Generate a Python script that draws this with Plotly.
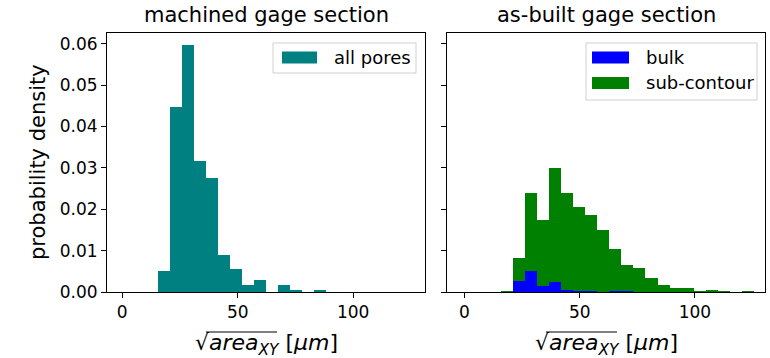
import plotly.graph_objects as go

# ---- data ----
machined_edges = [15.4, 20.6, 25.8, 31.0, 36.2, 41.4, 46.6, 51.8, 57.0, 62.2,
                  67.4, 72.6, 77.8, 83.0, 88.2]
machined_all = [0.0050, 0.0447, 0.0596, 0.0317, 0.0276, 0.0090, 0.0055, 0.0018,
                0.0029, 0.0, 0.0018, 0.0004, 0.0, 0.0004]

asbuilt_edges = [15.9, 21.1, 26.3, 31.6, 36.8, 42.0, 47.2, 52.4, 57.7, 62.9,
                 68.1, 73.3, 78.5, 83.8, 89.0, 94.2, 99.4, 104.6, 109.9, 115.1,
                 120.3, 125.5]
asbuilt_subcontour = [0.0002, 0.0081, 0.0240, 0.0175, 0.0299, 0.0240, 0.0206,
                      0.0187, 0.0151, 0.0103, 0.0066, 0.0057, 0.0034, 0.0018,
                      0.0010, 0.0010, 0.0002, 0.0004, 0.0002, 0.0, 0.0002]
asbuilt_bulk = [0.0, 0.0026, 0.0050, 0.0015, 0.0024, 0.0006, 0.0002, 0.0002,
                0.0, 0.0002, 0.0002, 0.0, 0.0, 0.0, 0.0, 0.0, 0.0, 0.0, 0.0,
                0.0, 0.0]

x_ticks = [0, 50, 100]
y_ticks = [0.00, 0.01, 0.02, 0.03, 0.04, 0.05, 0.06]
titles = ["machined gage section", "as-built gage section"]
series_names = ["all pores", "bulk", "sub-contour"]
series_colors = ["#008080", "#0000ff", "#008000"]


def centers_widths(edges):
    c = [(a + b) / 2 for a, b in zip(edges[:-1], edges[1:])]
    w = [b - a for a, b in zip(edges[:-1], edges[1:])]
    return c, w


FONT = "DejaVu Sans"
fig = go.Figure()

c, w = centers_widths(machined_edges)
fig.add_trace(go.Bar(x=c, y=machined_all, width=w, name=series_names[0],
                     marker=dict(color=series_colors[0], line=dict(width=0)),
                     xaxis="x", yaxis="y", showlegend=False))

c2, w2 = centers_widths(asbuilt_edges)
fig.add_trace(go.Bar(x=c2, y=asbuilt_subcontour, width=w2, name=series_names[2],
                     marker=dict(color=series_colors[2], line=dict(width=0)),
                     xaxis="x2", yaxis="y2", showlegend=False))
fig.add_trace(go.Bar(x=c2, y=asbuilt_bulk, width=w2, name=series_names[1],
                     marker=dict(color=series_colors[1], line=dict(width=0)),
                     xaxis="x2", yaxis="y2", showlegend=False))

axis_common = dict(showline=True, mirror=True, linecolor="black", linewidth=1,
                   ticks="outside", ticklen=5, tickwidth=1, tickcolor="black",
                   showgrid=False, zeroline=False,
                   tickfont=dict(family=FONT, size=17, color="black"))

W, H = 770, 358
ml, mr, mt, mb = 107, 5, 33, 66
pw = W - ml - mr
ph = H - mt - mb

def px_x(p):
    return (p - ml) / pw

def px_y(p):
    return (H - mb - p) / ph

fig.update_layout(
    width=W, height=H,
    margin=dict(l=ml, r=mr, t=mt, b=mb),
    paper_bgcolor="white", plot_bgcolor="white",
    barmode="overlay", bargap=0, showlegend=False,
    font=dict(family=FONT, color="black"),
    xaxis=dict(domain=[0, px_x(425)], range=[-6.6, 131.1], tickvals=x_ticks,
               anchor="y", **axis_common),
    yaxis=dict(range=[0, 0.0626], tickvals=y_ticks, tickformat=".2f",
               anchor="x", **axis_common),
    xaxis2=dict(domain=[px_x(447), 1], range=[-7.6, 130.4], tickvals=x_ticks,
                anchor="y2", **axis_common),
    yaxis2=dict(range=[0, 0.0626], tickvals=y_ticks, showticklabels=False,
                anchor="x2", **axis_common),
)

xlabel = "√<i>area</i><sub><i>XY</i></sub> [<i>μm</i>]"
ann = []
shapes = []
for t, xc in zip(titles, [(107 + 425) / 2, (447 + 765) / 2]):
    ann.append(dict(text=t, x=px_x(xc), y=px_y(15), xref="paper", yref="paper",
                    xanchor="center", yanchor="middle", showarrow=False,
                    font=dict(family=FONT, size=21, color="black")))
    ann.append(dict(text=xlabel, x=px_x(xc), y=px_y(344), xref="paper", yref="paper",
                    xanchor="center", yanchor="middle", showarrow=False,
                    font=dict(family=FONT, size=22, color="black")))
    # overline of the square root
    shapes.append(dict(type="line", xref="paper", yref="paper",
                       x0=px_x(xc - 60), x1=px_x(xc + 11),
                       y0=px_y(332), y1=px_y(332),
                       line=dict(color="black", width=1)))
ann.append(dict(text="probability density", x=px_x(38), y=px_y(162),
                xref="paper", yref="paper", xanchor="center", yanchor="middle",
                textangle=-90, showarrow=False,
                font=dict(family=FONT, size=21, color="black")))

# legends (matplotlib-style boxes)
legend_boxes = [(273, 416, 43, 73), (586, 757, 43, 100)]
for (x0, x1, y0, y1) in legend_boxes:
    shapes.append(dict(type="rect", xref="paper", yref="paper",
                       x0=px_x(x0), x1=px_x(x1), y0=px_y(y0), y1=px_y(y1),
                       line=dict(color="#d0d0d0", width=1), fillcolor="rgba(255,255,255,0.8)"))
legend_items = [  # (patch x0, patch x1, center y, text x)
    (282, 317, 57.5, 332),
    (592, 629, 57.5, 644),
    (592, 629, 83, 644),
]
for name, color, (px0, px1, cy, tx) in zip(series_names, series_colors, legend_items):
    shapes.append(dict(type="rect", xref="paper", yref="paper",
                       x0=px_x(px0), x1=px_x(px1), y0=px_y(cy - 6), y1=px_y(cy + 6),
                       line=dict(width=0), fillcolor=color))
    ann.append(dict(text=name, x=px_x(tx), y=px_y(cy), xref="paper", yref="paper",
                    xanchor="left", yanchor="middle", showarrow=False,
                    font=dict(family=FONT, size=18, color="black")))

fig.update_layout(annotations=ann, shapes=shapes)

fig.write_html("out.html")
